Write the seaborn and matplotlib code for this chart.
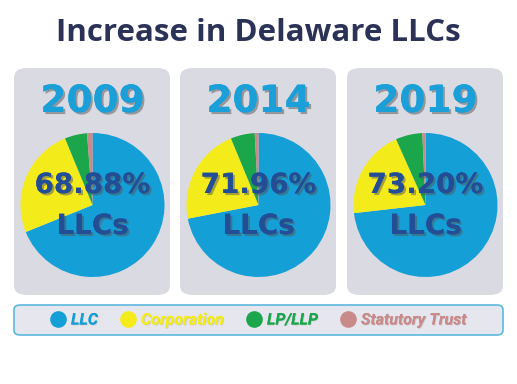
import matplotlib
matplotlib.use("Agg")
import matplotlib.pyplot as plt
import matplotlib.patheffects as pe
from matplotlib.patches import FancyBboxPatch
from matplotlib.lines import Line2D
import seaborn as sns

sns.set_theme(style="white")
plt.rcParams['font.family'] = ['DejaVu Sans']

years = ['2009', '2014', '2019']
entity_types = ['LLC', 'Corporation', 'LP/LLP', 'Statutory Trust']
llc_share = [68.88, 71.96, 73.20]
corp_share = [24.9, 21.8, 20.1]
lp_share = [5.0, 5.4, 6.0]
trust_share = [1.22, 0.84, 0.70]
colors = ['#149fd6', '#f4ec1a', '#1ba64b', '#c98a8a']

W, H = 517, 384
fig = plt.figure(figsize=(W / 100, H / 100), dpi=100)
fig.patch.set_facecolor('white')

fig.text(0.5, 1 - 33 / H, 'Increase in Delaware LLCs', ha='center', va='center',
         fontsize=22.5, fontweight='bold', color='#2a3257', family='Open Sans')

panel_x = [14, 180, 347]
shadow = [pe.withSimplePatchShadow(offset=(1.5, -1.5), shadow_rgbFace='#555555', alpha=0.5), pe.Normal()]

for i, yr in enumerate(years):
    x0 = panel_x[i]
    bg = FancyBboxPatch((x0 / W, 1 - 295 / H), 156 / W, 227 / H,
                        boxstyle="round,pad=0,rounding_size=0.025",
                        transform=fig.transFigure, facecolor='#dadae2', edgecolor='none', zorder=-2)
    fig.patches.append(bg)

    cx = x0 + 78.5
    r = 72
    ax = fig.add_axes([(cx - r) / W, (H - 205 - r) / H, 2 * r / W, 2 * r / H])
    ax.patch.set_alpha(0)
    vals = [llc_share[i], corp_share[i], lp_share[i], trust_share[i]]
    ax.pie(vals, colors=colors, startangle=90, counterclock=False,
           wedgeprops=dict(linewidth=0))
    ax.set_aspect('auto')
    ax.set_xlim(-1, 1)
    ax.set_ylim(-1, 1)
    ax.axis('off')

    fig.text(cx / W, 1 - 102 / H, yr, ha='center', va='center', fontsize=27,
             fontweight='bold', color='#1a9fd8', path_effects=shadow, zorder=5)
    fig.text(cx / W, 1 - 185 / H, f'{llc_share[i]:.2f}%', ha='center', va='center',
             fontsize=20, fontweight='bold', color='#234e96', path_effects=shadow, zorder=5)
    fig.text(cx / W, 1 - 226 / H, 'LLCs', ha='center', va='center',
             fontsize=20, fontweight='bold', color='#234e96', path_effects=shadow, zorder=5)

leg_box = FancyBboxPatch((14 / W, 1 - 335 / H), 489 / W, 30 / H,
                         boxstyle="round,pad=0,rounding_size=0.012",
                         transform=fig.transFigure, facecolor='#e6e6ef',
                         edgecolor='#5bb8e0', linewidth=1.2, zorder=-2)
fig.patches.append(leg_box)

handles = [Line2D([0], [0], marker='o', linestyle='', markersize=12,
                  markerfacecolor=c, markeredgecolor='none') for c in colors]
leg = fig.legend(handles, entity_types, loc='center', ncol=4,
                 bbox_to_anchor=(0.5, 1 - 320 / H), frameon=False,
                 prop=dict(family='Roboto', style='italic', weight='bold', size=11.5),
                 handletextpad=0.3, columnspacing=1.4, handlelength=1.0)
for t, c in zip(leg.get_texts(), colors):
    t.set_color(c)
    t.set_path_effects([pe.withSimplePatchShadow(offset=(0.6, -0.6), shadow_rgbFace='#888888', alpha=0.3), pe.Normal()])

fig.savefig('out.png', dpi=100)
